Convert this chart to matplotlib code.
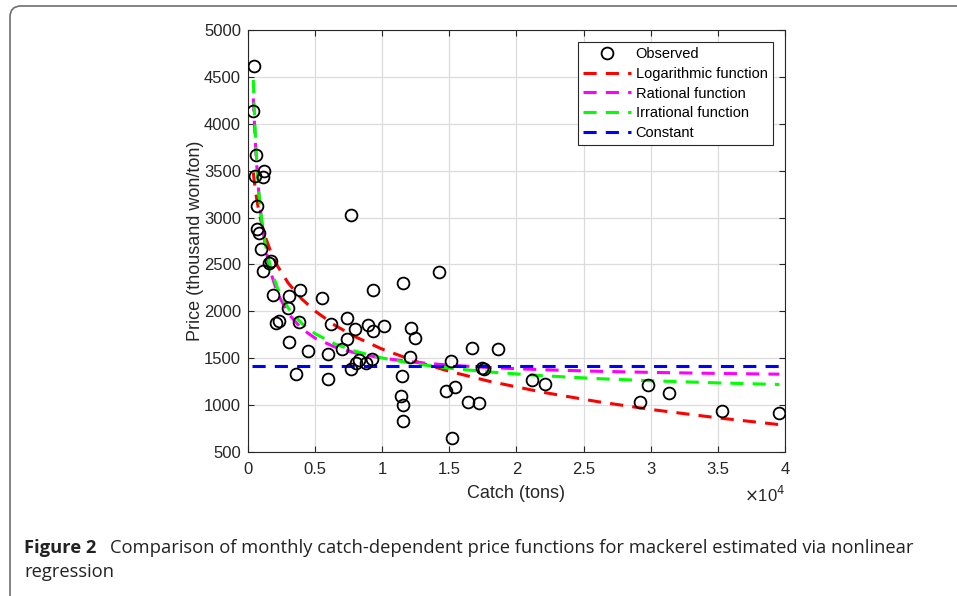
import matplotlib.pyplot as plt
from matplotlib.patches import FancyBboxPatch
from matplotlib.ticker import FuncFormatter

plt.rcParams['font.family'] = ['Liberation Sans', 'DejaVu Sans']

# Observed monthly catch (tons) and price (thousand won/ton)
catch_obs = [447, 372, 596, 521, 1214, 1095, 648, 700, 819, 968, 1690, 1589, 1142,
             7650, 14200, 11570, 3873, 9286, 5512, 3054, 1887, 2955, 7350, 3823,
             2086, 2284, 6183, 8913, 10130, 12120, 7970, 9286, 12417, 7400, 3054,
             7002, 4494, 5983, 12067, 9211, 8268, 8045, 8790, 7672, 3550, 5935,
             11445, 11400, 11520, 11570, 16710, 18600, 15100, 17450, 17550, 21130,
             22150, 14730, 15420, 16410, 17230, 15170, 29820, 31360, 29220, 35330,
             39580]
price_obs = [4620, 4140, 3670, 3447, 3493, 3429, 3127, 2880, 2839, 2661, 2540, 2512, 2433,
             3027, 2420, 2305, 2228, 2228, 2146, 2160, 2171, 2039, 1932, 1890,
             1879, 1900, 1862, 1851, 1844, 1826, 1808, 1790, 1719, 1702, 1670,
             1595, 1577, 1542, 1510, 1495, 1481, 1452, 1446, 1385, 1329, 1282,
             1310, 1097, 1004, 827, 1612, 1602, 1474, 1400, 1385, 1268,
             1225, 1150, 1196, 1036, 1026, 646, 1214, 1132, 1030, 940,
             913]

# Fitted curves
catch_fit = [400, 450, 600, 800, 1000, 1300, 1700, 2200, 3000, 4000, 5000, 6500,
             8000, 10000, 12500, 15000, 18000, 22000, 26000, 30000, 35000, 39580]
price_log = [3480, 3411, 3243, 3074, 2944, 2791, 2634, 2483, 2301, 2133, 2003, 1849,
             1728, 1597, 1466, 1360, 1253, 1136, 1038, 954, 864, 792]
price_rat = [4270, 4094, 3670, 3270, 2984, 2682, 2413, 2193, 1976, 1815, 1714, 1618,
             1556, 1501, 1456, 1426, 1400, 1377, 1361, 1349, 1338, 1330]
price_irr = [4467, 4228, 3720, 3286, 3000, 2708, 2456, 2246, 2034, 1871, 1762, 1651,
             1574, 1502, 1439, 1394, 1353, 1313, 1283, 1260, 1237, 1220]
catch_const = [330, 40000]
price_const = [1415, 1415]

fig = plt.figure(figsize=(9.57, 5.96), dpi=100)
ax = fig.add_axes([0.2591, 0.2416, 0.5612, 0.7081])

axcol = '#262626'
ax.plot(catch_obs, price_obs, 'o', mfc='none', mec='black', ms=8.5, mew=1.3,
        zorder=5, label='Observed')
dash = (4.3, 3)
ax.plot(catch_fit, price_log, color='#ff0000', lw=2.2, dashes=dash, label='Logarithmic function')
ax.plot(catch_fit, price_rat, color='#ff00ff', lw=2.2, dashes=dash, label='Rational function')
ax.plot(catch_fit, price_irr, color='#00ff00', lw=2.2, dashes=dash, label='Irrational function')
ax.plot(catch_const, price_const, color='#0000ff', lw=2.2, dashes=dash, label='Constant')

ax.set_xlim(0, 40000)
ax.set_ylim(500, 5000)
ax.set_xticks(range(0, 40001, 5000))
ax.set_yticks(range(500, 5001, 500))
ax.xaxis.set_major_formatter(FuncFormatter(lambda v, p: f'{v / 1e4:g}'))
ax.grid(True, color='#dcdcdc', lw=0.9)
ax.set_axisbelow(True)
ax.tick_params(direction='in', top=True, right=True, length=4, width=0.8,
               colors=axcol, labelsize=12, labelcolor=axcol, pad=5)
ax.tick_params(axis='x', pad=7)
for s in ax.spines.values():
    s.set_color(axcol)
    s.set_linewidth(0.8)
ax.set_xlabel('Catch (tons)', fontsize=13, color=axcol, labelpad=6)
ax.set_ylabel('Price (thousand won/ton)', fontsize=13, color=axcol, labelpad=0)
ax.text(1.0, -0.102, r'$\times$10$^4$', transform=ax.transAxes, ha='right', va='center',
        fontsize=12, color=axcol)

leg = ax.legend(loc='upper right', fontsize=10.5, frameon=True, fancybox=False,
                edgecolor='#262626', framealpha=1, borderaxespad=0.85,
                handlelength=3.3, handletextpad=0.3, labelspacing=0.38, borderpad=0.35)
leg.get_frame().set_linewidth(0.8)

# caption and rounded frame
fig.text(24 / 957, 1 - 548 / 596, 'Figure 2', fontsize=13.2, fontweight='bold',
         family='Open Sans', color='#222222', va='center')
fig.text(110 / 957, 1 - 548 / 596,
         'Comparison of monthly catch-dependent price functions for mackerel estimated via nonlinear',
         fontsize=13.2, family='Open Sans', color='#222222', va='center')
fig.text(24 / 957, 1 - 572 / 596, 'regression', fontsize=13.2, family='Open Sans',
         color='#222222', va='center')
box = FancyBboxPatch((10, -30), 1000, 620,
                     boxstyle='round,pad=0,rounding_size=11', transform=None,
                     fill=False, edgecolor='#6e6e6e', lw=1.2)
fig.patches.append(box)

fig.savefig('out.png', dpi=100)
